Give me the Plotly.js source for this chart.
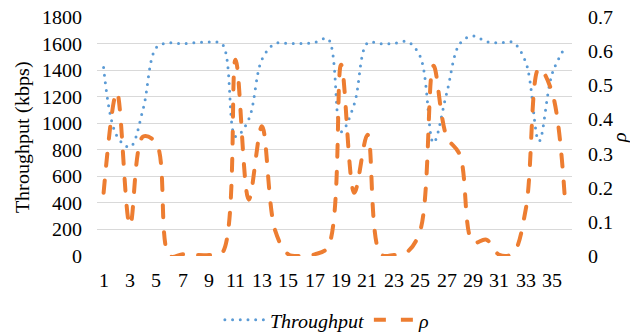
<!DOCTYPE html>
<html>
<head>
<meta charset="utf-8">
<script src="https://cdn.plot.ly/plotly-3.0.1.min.js"></script>
<style>
@font-face {font-family: 'RefSerif'; font-style: normal; font-weight: 400; src: local('Liberation Serif'), local('LiberationSerif'), local('Liberation Serif Regular'), local('LiberationSerif-Regular');}
@font-face {font-family: 'RefSerif'; font-style: italic; font-weight: 400; src: local('Liberation Serif Italic'), local('LiberationSerif-Italic');}
html,body{margin:0;padding:0;background:#fff;}
#chart{width:630px;height:336px;}
.scatterlayer .trace:first-child .js-line, .legend .traces:first-child .js-line {stroke-linecap: round;}
</style>
</head>
<body>
<div id="chart"></div>
<script>
const categories = [1,2,3,4,5,6,7,8,9,10,11,12,13,14,15,16,17,18,19,20,21,22,23,24,25,26,27,28,29,30,31,32,33,34,35,36];
const throughput = [1420,905,820,1110,1570,1606,1598,1608,1611,1595,900,1030,1480,1600,1600,1600,1609,1636,936,1145,1604,1598,1601,1615,1502,853,1225,1600,1657,1615,1605,1610,1459,864,1374,1577];
const rho = [0.185,0.48,0.09,0.35,0.33,0,0.005,0.003,0.003,0.01,0.575,0.165,0.38,0.075,0.005,0,0.005,0.026,0.56,0.185,0.355,0.005,0.003,0.012,0.075,0.557,0.35,0.296,0.04,0.048,0.003,0.007,0.138,0.55,0.478,0.145];
const xTicks = [1,3,5,7,9,11,13,15,17,19,21,23,25,27,29,31,33,35];
const yTicks = [0,200,400,600,800,1000,1200,1400,1600,1800];
const y2Ticks = [0,0.1,0.2,0.3,0.4,0.5,0.6,0.7];

const FONT = 'RefSerif, "Liberation Serif", "Times New Roman", "Liberation Sans", Arial, sans-serif';
const FS = 20;
const traces = [
  {x: categories, y: throughput, name: '<i>Throughput</i>', type: 'scatter', mode: 'lines',
   line: {color: '#5B9BD5', width: 3, shape: 'spline', smoothing: 1, dash: '0px,7.7px'}},
  {x: categories, y: rho, name: '<i>ρ</i>', type: 'scatter', mode: 'lines', yaxis: 'y2',
   line: {color: '#ED7D31', width: 4, shape: 'spline', smoothing: 1, dash: '12px,15px'}}
];
const layout = {
  width: 630, height: 336,
  margin: {l: 97, r: 58, t: 17, b: 80, autoexpand: false},
  paper_bgcolor: '#fff', plot_bgcolor: '#fff',
  font: {family: FONT, size: FS, color: '#000'},
  showlegend: true,
  legend: {orientation: 'h', x: 0.485, xanchor: 'center', yref: 'container', y: 0.048, yanchor: 'middle',
           font: {family: FONT, size: FS, color: '#000'}, itemwidth: 40},
  xaxis: {range: [0.5, 36.5], tickvals: xTicks, ticktext: xTicks.map(String), showgrid: false,
          zeroline: false, showline: false, ticks: '', ticklabelstandoff: 10, tickfont: {family: FONT, size: FS}},
  yaxis: {range: [0, 1800], tickvals: yTicks, showgrid: true, gridcolor: '#D9D9D9', gridwidth: 1,
          zeroline: false, showline: false, ticks: '', ticklabelstandoff: 14, tickfont: {family: FONT, size: FS},
          title: {text: 'Throughput (kbps)', font: {family: FONT, size: FS}, standoff: 7}},
  yaxis2: {range: [0, 0.7], tickvals: y2Ticks, overlaying: 'y', side: 'right', showgrid: false,
           zeroline: false, showline: false, ticks: '', ticklabelstandoff: 15, tickfont: {family: FONT, size: FS},
           title: {text: '<i>ρ</i>', font: {family: FONT, size: FS}, standoff: 10}}
};
Plotly.newPlot('chart', traces, layout, {displayModeBar: false, staticPlot: true});
</script>
</body>
</html>
